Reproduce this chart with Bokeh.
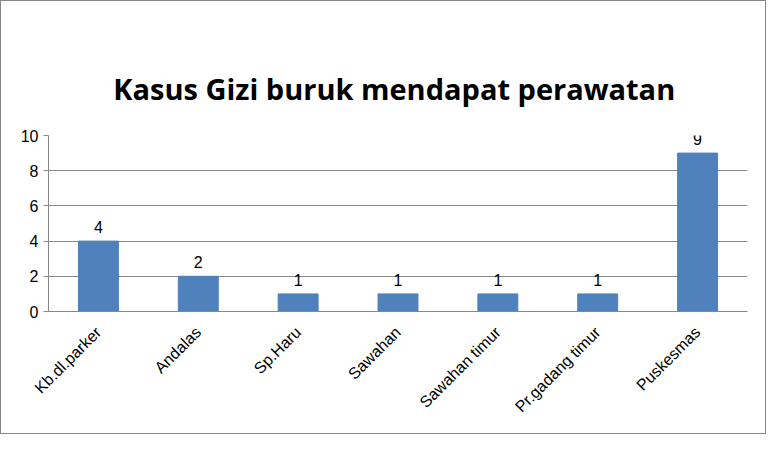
from bokeh.plotting import figure
from bokeh.models import ColumnDataSource, FixedTicker
from bokeh.core.properties import value
from bokeh.embed import file_html
from bokeh.resources import INLINE
from math import pi

categories = ["Kb.dl.parker", "Andalas", "Sp.Haru", "Sawahan", "Sawahan timur", "Pr.gadang timur", "Puskesmas"]
counts = [4, 2, 1, 1, 1, 1, 9]

source = ColumnDataSource(dict(cat=categories, n=counts, lbl=[str(c) for c in counts]))

p = figure(x_range=categories, y_range=(0, 10), width=766, height=434,
           output_backend="svg", toolbar_location=None,
           min_border_left=47, min_border_right=20, min_border_top=134, min_border_bottom=124)
p.styles = {"border": "1px solid #888888"}
p.outline_line_color = None

p.title.text = "Kasus  Gizi buruk mendapat perawatan"
p.title.align = "center"
p.title.text_font = "Open Sans"
p.title.text_font_style = "bold"
p.title.text_font_size = "29px"
p.title.text_color = "#000000"
p.title.standoff = 55

p.vbar(x="cat", top="n", width=0.4, source=source, color="#4f81bd")
p.text(x="cat", y="n", text="lbl", source=source, y_offset=-8,
       text_align="center", text_baseline="bottom", text_font_size="16px",
       text_font=value("Liberation Sans"), text_color="#000000")

p.yaxis.ticker = FixedTicker(ticks=[0, 2, 4, 6, 8, 10])
p.yaxis.major_label_text_font_size = "16px"
p.yaxis.major_label_text_font = "Liberation Sans"
p.yaxis.major_label_text_color = "#000000"
p.yaxis.axis_line_color = "#888888"
p.yaxis.major_tick_line_color = "#888888"
p.yaxis.major_tick_in = 0
p.yaxis.major_tick_out = 5
p.yaxis.minor_tick_line_color = None

p.xaxis.major_label_orientation = pi / 4
p.xaxis.major_label_text_font_size = "16px"
p.xaxis.major_label_text_font = "Liberation Sans"
p.xaxis.major_label_text_color = "#000000"
p.xaxis.major_label_standoff = 12
p.xaxis.axis_line_color = "#888888"
p.xaxis.major_tick_line_color = None

p.xgrid.grid_line_color = None
p.ygrid.grid_line_color = "#888888"

open("out.html", "w").write(file_html(p, INLINE))
